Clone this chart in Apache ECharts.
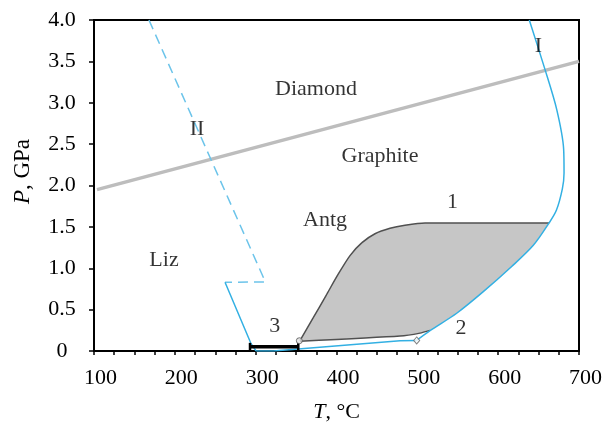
<!DOCTYPE html>
<html><head><meta charset="utf-8">
<script src="https://cdn.jsdelivr.net/npm/echarts@6/dist/echarts.min.js"></script>
<style>html,body{margin:0;padding:0;background:#fff}#c{width:608px;height:428px}</style>
</head><body><div id="c"></div>
<script>
// ---- data (T in °C, P in GPa) ----
const xTickLabels = ['100','200','300','400','500','600','700'];
const yTickLabels = ['0','0.5','1.0','1.5','2.0','2.5','3.0','3.5','4.0'];

const graphiteDiamond = [[103.7,1.95],[700,3.50]];
const curveII_dashed = [[168,4.0],[312,0.835],[262.1,0.83]];
const curveII_solid = [[262.1,0.83],[293.9,0.096],[300.5,0.0]];
const curveBottom = [[300.5,0.0],[322,0.0],[478.6,0.124],[499.2,0.128]];
const curveI = [[499.2,0.128],[515.7,0.246],[548.7,0.456],[581.6,0.717],[616.7,1.021],[643.5,1.277],[662.9,1.546],[672,1.70],[679.4,1.96],[681.5,2.15],[681,2.44],[672.4,2.92],[658.0,3.40],[638.5,4.0]];
const antgTop = [[354.8,0.126],[370.9,0.396],[387.2,0.673],[401.9,0.925],[416.7,1.153],[431.5,1.309],[447.6,1.417],[466.2,1.483],[484.7,1.520],[509.5,1.548],[662.9,1.548]];
const antgBottom = [[354.8,0.117],[478.6,0.180],[503.3,0.216],[515.7,0.249]];
const antgRight = [[515.7,0.249],[548.7,0.456],[581.6,0.717],[616.7,1.021],[643.5,1.277],[662.9,1.548]];
const bar3 = [[293,0.05],[352.7,0.05]];
const circlePt = [[354,0.124]];
const diamondPt = [[499.2,0.128]];
const annotations = [
  [374.6,3.16,'Diamond'],[453.8,2.354,'Graphite'],[227.4,2.679,'II'],[649.9,3.682,'I'],
  [385.8,1.586,'Antg'],[186.6,1.099,'Liz'],[543.5,1.802,'1'],[554.0,0.276,'2'],[323.5,0.30,'3']
];

const FONT = '"Liberation Serif","Times New Roman",serif';
const BLUE = '#33b0e3';
const polygon = antgTop.slice().concat(antgRight.slice().reverse(), antgBottom.slice().reverse());

const chart = echarts.init(document.getElementById('c'));
chart.setOption({
  animation:false,
  grid:{left:94,right:29,top:20,bottom:75,show:true,borderColor:'#000',borderWidth:2},
  xAxis:{type:'value',min:100,max:700,interval:100,
    axisLine:{show:true,lineStyle:{color:'#000',width:2}},
    axisTick:{show:true,inside:false,length:4,lineStyle:{color:'#000',width:1.5}},
    minorTick:{show:true,splitNumber:4,length:4,lineStyle:{color:'#000',width:1.5}},
    splitLine:{show:false},
    axisLabel:{fontFamily:FONT,fontSize:22,color:'#000',margin:16,padding:[0,0,0,13],
      formatter:(v)=>xTickLabels[Math.round((v-100)/100)]},
    name:'{i|T}, °C',nameLocation:'middle',nameGap:50,
    nameTextStyle:{fontFamily:FONT,fontSize:22,color:'#000',
      rich:{i:{fontFamily:FONT,fontSize:22,fontStyle:'italic',color:'#000'}}}
  },
  yAxis:{type:'value',min:0,max:4,interval:0.5,
    axisLine:{show:true,lineStyle:{color:'#000',width:2}},
    axisTick:{show:true,inside:false,length:5,lineStyle:{color:'#000',width:1.5}},
    splitLine:{show:false},
    axisLabel:{fontFamily:FONT,fontSize:22,color:'#000',margin:32,align:'center',
      formatter:(v)=>yTickLabels[Math.round(v/0.5)]},
    name:'{i|P}, GPa',nameLocation:'middle',nameGap:60,
    nameTextStyle:{fontFamily:FONT,fontSize:23,color:'#000',padding:[0,0,0,28],
      rich:{i:{fontFamily:FONT,fontSize:23,fontStyle:'italic',color:'#000'}}}
  },
  series:[
    {type:'custom',data:[0],z:1,clip:true,silent:true,
      renderItem:(params,api)=>({type:'polygon',shape:{points:polygon.map(p=>api.coord(p))},
        style:{fill:'#c6c6c6',stroke:null}})},
    {type:'line',data:antgTop,showSymbol:false,smooth:0.2,z:3,lineStyle:{color:'#505050',width:1.5}},
    {type:'line',data:antgBottom,showSymbol:false,smooth:0.2,z:3,lineStyle:{color:'#505050',width:1.5}},
    {type:'line',data:graphiteDiamond,showSymbol:false,z:2,lineStyle:{color:'#bdbdbd',width:3.5}},
    {type:'line',data:curveII_dashed,showSymbol:false,z:4,lineStyle:{color:'#6cc4ea',width:1.5,type:[10,6]}},
    {type:'line',data:curveII_solid,showSymbol:false,z:4,lineStyle:{color:BLUE,width:1.5}},
    {type:'line',data:curveBottom,showSymbol:false,z:4,lineStyle:{color:BLUE,width:1.5}},
    {type:'line',data:curveI,showSymbol:false,smooth:0.3,z:4,lineStyle:{color:BLUE,width:1.5}},
    {type:'line',data:bar3,symbol:'rect',symbolSize:[2.5,8],showSymbol:true,z:5,
      itemStyle:{color:'#000'},lineStyle:{color:'#000',width:3.5}},
    {type:'scatter',data:circlePt,symbol:'circle',symbolSize:6,z:6,
      itemStyle:{color:'#e0e0e0',borderColor:'#555',borderWidth:1}},
    {type:'scatter',data:diamondPt,symbol:'diamond',symbolSize:[6,7],z:6,
      itemStyle:{color:'#fff',borderColor:'#666',borderWidth:1}},
    {type:'scatter',data:annotations.map(a=>({value:[a[0],a[1]],name:a[2]})),symbolSize:0,z:7,
      label:{show:true,position:'inside',formatter:(p)=>p.name,fontFamily:FONT,fontSize:22,color:'#000'}}
  ]
});
</script></body></html>
